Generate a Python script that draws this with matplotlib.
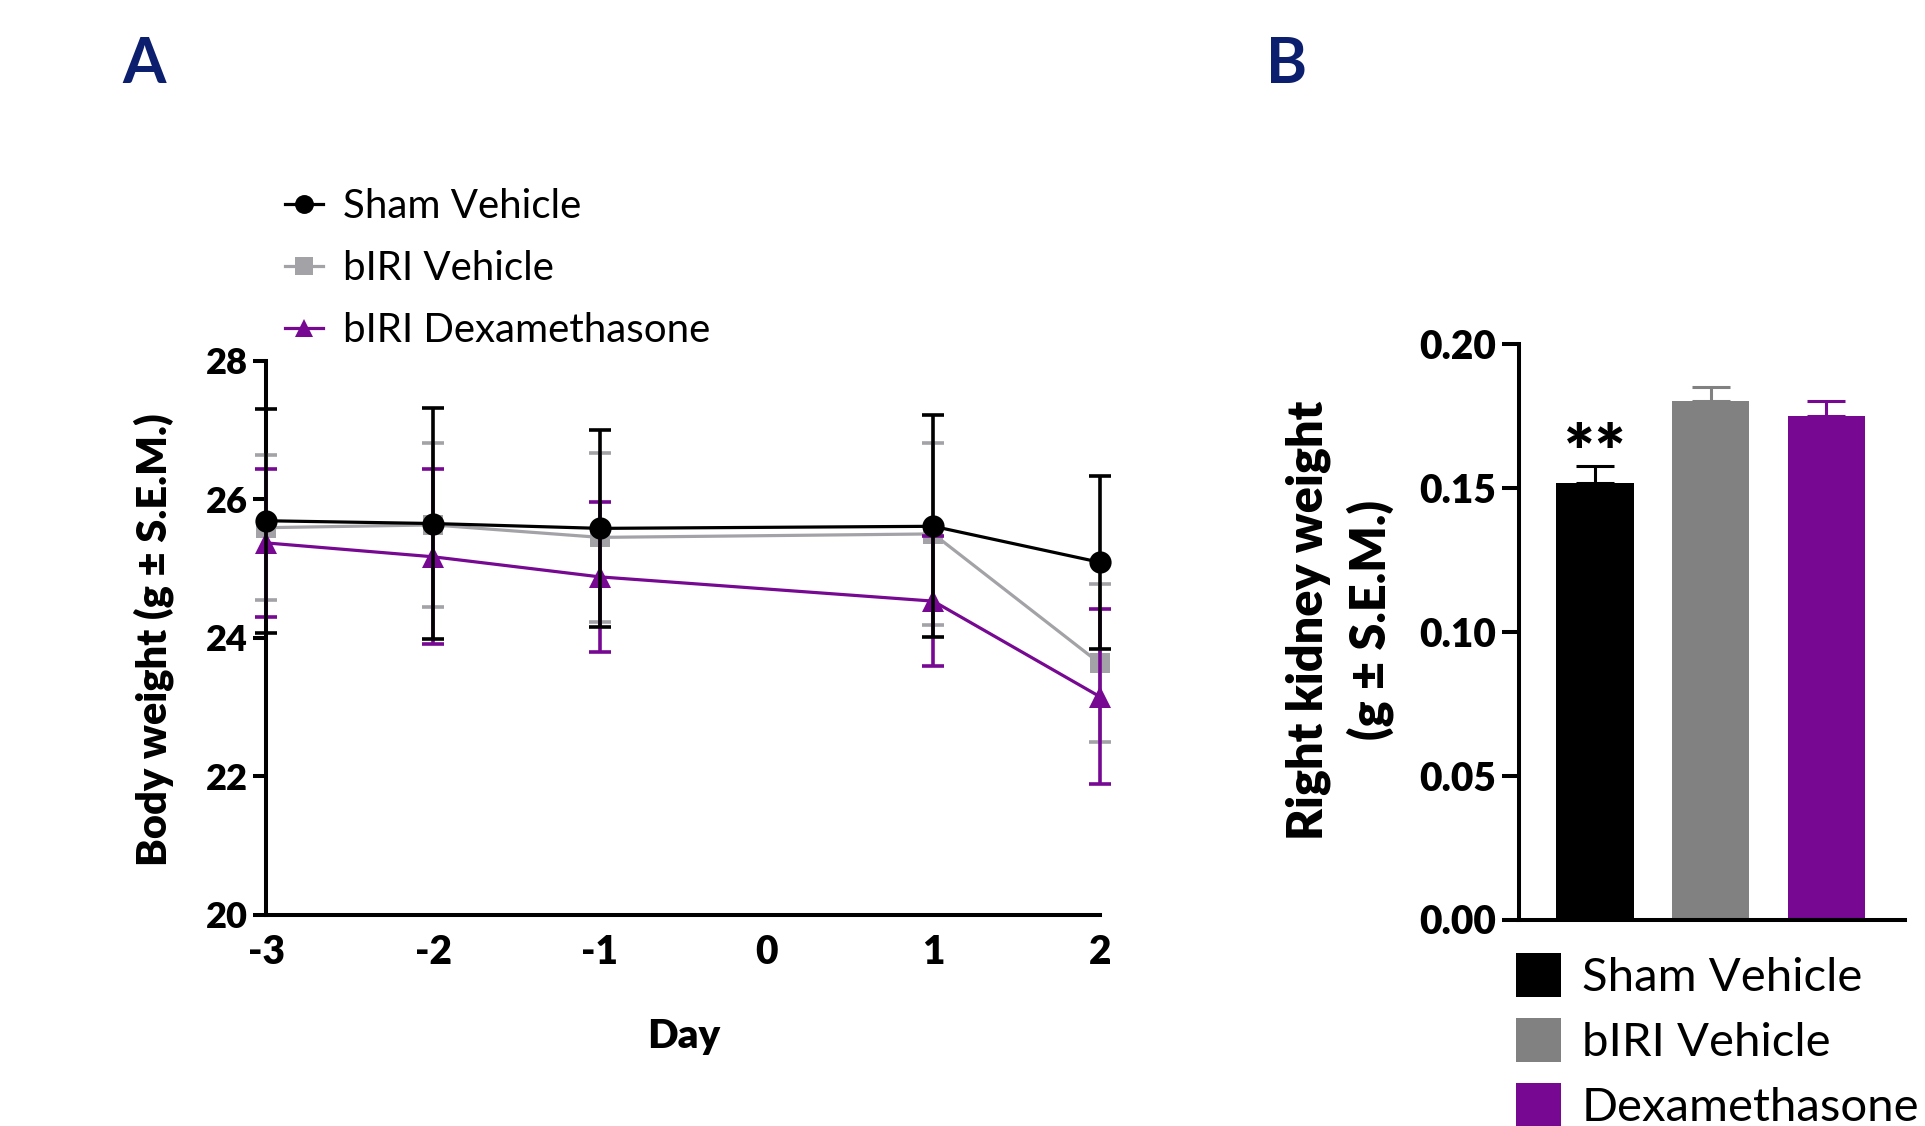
import matplotlib
matplotlib.use("Agg")
import matplotlib.pyplot as plt

plt.rcParams['font.family'] = ['Lato', 'DejaVu Sans']

# ---------------- data ----------------
days = [-3, -2, -1, 1, 2]
day_ticks = [-3, -2, -1, 0, 1, 2]
bw_ticks = [20, 22, 24, 26, 28]

sham_mean = [25.69, 25.65, 25.58, 25.61, 25.09]
sham_sem = [1.62, 1.67, 1.42, 1.60, 1.25]
veh_mean = [25.59, 25.63, 25.45, 25.50, 23.63]
veh_sem = [1.05, 1.18, 1.22, 1.31, 1.14]
dex_mean = [25.37, 25.17, 24.88, 24.53, 23.15]
dex_sem = [1.07, 1.26, 1.08, 0.94, 1.26]
series_labels = ["Sham Vehicle", "bIRI Vehicle", "bIRI Dexamethasone"]

kidney_groups = ["Sham Vehicle", "bIRI Vehicle", "Dexamethasone"]
kidney_mean = [0.1518, 0.1803, 0.1748]
kidney_sem = [0.0056, 0.0047, 0.0054]
kidney_ticks = [0.00, 0.05, 0.10, 0.15, 0.20]
sig_marks = ["**", "", ""]

# ---------------- style ----------------
W, H = 1925, 1126
C_BLACK = '#000000'
C_GREY_L = '#a3a3a7'
C_PURPLE = '#760892'
C_GREY_B = '#818181'
C_NAVY = '#0c1f6e'
LW_AX = 2.9
BOLD = 'heavy'

fig = plt.figure(figsize=(W / 100, H / 100), dpi=100)

# ---------------- Panel A ----------------
axA = fig.add_axes([266.4 / W, 1 - 915 / H, (1100 - 266.4) / W, (915 - 360.7) / H])

styles = [
    (veh_mean, veh_sem, C_GREY_L, 's', 15, 3),
    (dex_mean, dex_sem, C_PURPLE, '^', 15.5, 4),
    (sham_mean, sham_sem, C_BLACK, 'o', 16, 6),
]
handles = {}
for (m, s, c, mk, ms, z), lab in zip(styles, [series_labels[1], series_labels[2], series_labels[0]]):
    axA.errorbar(days, m, yerr=s, fmt='none', ecolor=c, elinewidth=2.6,
                 capsize=7.6, capthick=2.6, zorder=z, clip_on=False)
    ln, = axA.plot(days, m, color=c, lw=2.3, marker=mk, markersize=ms,
                   markeredgewidth=0, zorder=z + 0.5, clip_on=False, label=lab)
    handles[lab] = ln

axA.set_xlim(-3, 2)
axA.set_ylim(20, 28)
axA.set_xticks(day_ticks)
axA.set_xticklabels([str(d) for d in day_ticks], fontsize=28, fontweight=BOLD)
axA.set_yticks(bw_ticks)
axA.set_yticklabels([str(v) for v in bw_ticks], fontsize=26, fontweight=BOLD)
axA.tick_params(axis='x', length=0, pad=14)
axA.tick_params(axis='y', length=9.4, width=LW_AX, pad=4)
for sp in ['top', 'right']:
    axA.spines[sp].set_visible(False)
for sp in ['left', 'bottom']:
    axA.spines[sp].set_linewidth(LW_AX)

axA.set_xlabel('Day', fontsize=29, fontweight=BOLD, va='baseline')
axA.xaxis.set_label_coords(0.5, -(1048 - 915) / 554.3)
axA.set_ylabel('Body weight (g ± S.E.M.)', fontsize=30, fontweight=BOLD)
axA.yaxis.set_label_coords((174 - 266.4) / 833.6, (915 - 640) / 554.3)

legA = axA.legend([handles[l] for l in series_labels], series_labels,
                  loc='upper left', bbox_to_anchor=(285 / W, 1 - 188 / H),
                  bbox_transform=fig.transFigure, frameon=False, fontsize=29,
                  handlelength=0.95, handletextpad=0.5, labelspacing=0.62,
                  borderpad=0, borderaxespad=0, markerscale=0.85)

# ---------------- Panel B ----------------
axB = fig.add_axes([1518.7 / W, 1 - 919.5 / H, (1905 - 1518.7) / W, (919.5 - 343.8) / H])
xpos = list(range(len(kidney_groups)))
bar_colors = [C_BLACK, C_GREY_B, C_PURPLE]
bars = axB.bar(xpos, kidney_mean, width=0.667, color=bar_colors, zorder=2)
for x, m, s, c in zip(xpos, kidney_mean, kidney_sem, bar_colors):
    axB.errorbar([x], [m], yerr=[[0], [s]], fmt='none', ecolor=c, elinewidth=2.2,
                 capsize=14, capthick=2.2, zorder=1)
for x, m, s, t in zip(xpos, kidney_mean, kidney_sem, sig_marks):
    if t:
        axB.text(x, m + s - 0.0038, t, ha='center', va='baseline', fontsize=52,
                 fontweight=BOLD)

axB.set_xlim(-0.66, 2.68)
axB.set_ylim(0, 0.2)
axB.set_xticks([])
axB.set_yticks(kidney_ticks)
axB.set_yticklabels([f"{v:.2f}" for v in kidney_ticks], fontsize=28, fontweight=BOLD)
axB.tick_params(axis='y', length=12, width=LW_AX, pad=4)
for sp in ['top', 'right']:
    axB.spines[sp].set_visible(False)
for sp in ['left', 'bottom']:
    axB.spines[sp].set_linewidth(LW_AX)
axB.set_ylabel('Right kidney weight\n(g ± S.E.M.)', fontsize=35, fontweight=BOLD,
               linespacing=1.4)
axB.yaxis.set_label_coords((1394 - 1518.7) / 386.3, (919.5 - 620) / 575.7)

legB = axB.legend(bars, kidney_groups, loc='upper left',
                  bbox_to_anchor=(1516 / W, 1 - 953 / H), bbox_transform=fig.transFigure,
                  frameon=False, fontsize=34, handlelength=0.95, handleheight=1.05,
                  handletextpad=0.45, labelspacing=0.4, borderpad=0, borderaxespad=0)

# ---------------- panel letters ----------------
fig.text(122 / W, 1 - 83 / H, 'A', fontsize=45, fontweight='bold', color=C_NAVY,
         ha='left', va='baseline')
fig.text(1266 / W, 1 - 83 / H, 'B', fontsize=45, fontweight='bold', color=C_NAVY,
         ha='left', va='baseline')

fig.savefig('out.png', dpi=100)
